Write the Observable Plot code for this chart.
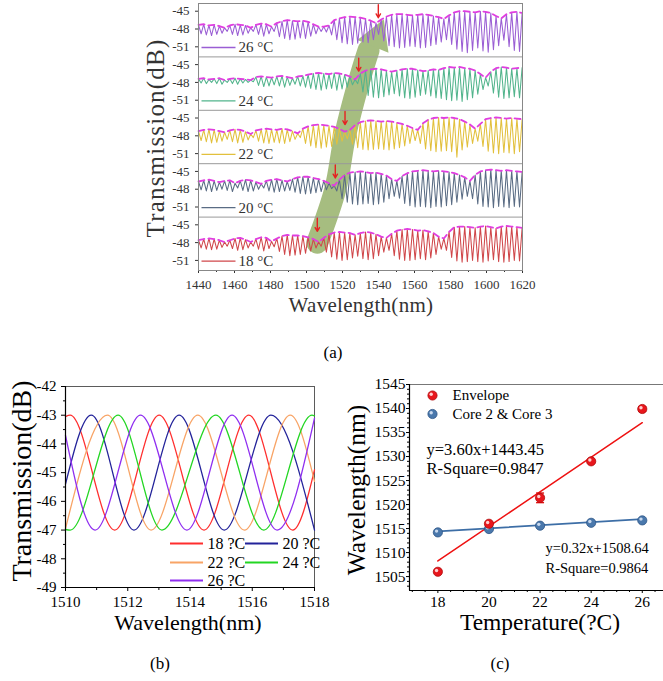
<!DOCTYPE html>
<html><head><meta charset="utf-8">
<script src="https://cdn.jsdelivr.net/npm/d3@7"></script>
<script src="https://cdn.jsdelivr.net/npm/@observablehq/plot@0.6"></script>
<style>
body{margin:0;background:#fff;}
#root{position:relative;width:663px;height:681px;overflow:hidden;font-family:"Liberation Serif","Times New Roman",serif;background:#fff;}
#root svg, #root svg text{font-family:"Liberation Serif","Times New Roman",serif !important;}
.lbl{position:absolute;white-space:nowrap;color:#000;line-height:1;font-family:"Liberation Serif","Times New Roman",serif;}
</style></head><body><div id="root"></div>
<script>
// ---------- panel (a): stacked transmission spectra ----------
const tempsA = [18, 20, 22, 24, 26];
const colorsA = ["#d0474a", "#5a6c84", "#e2c03c", "#52b48c", "#9a5ed4"];
const fringeStart = 1440, fringeSpacing = 2.9;   // nm, fringe peak grid
const tops18 = [-47.6,-47.4,-47.3,-47.4,-47.6,-47.9,-47.6,-47.3,-47.2,-47.5,-47.9,-47.4,-47.1,-47.2,-47.8,-47.3,-46.9,-46.7,-46.8,-46.8,-46.9,-47.1,-47.4,-47.9,-47.2,-46.6,-46.3,-46.2,-46.3,-46.4,-46.7,-46.4,-46.2,-46.3,-46.6,-47.0,-47.2,-46.5,-46.0,-45.8,-45.7,-45.8,-46.0,-45.9,-46.1,-46.4,-47.0,-47.3,-46.2,-45.4,-45.3,-45.3,-45.4,-45.5,-45.3,-45.2,-45.4,-45.6,-45.3,-45.2,-45.3,-45.4,-45.5];
const bots18 = [-48.9,-49.1,-49.2,-49.1,-48.8,-48.6,-49.0,-49.3,-49.2,-48.9,-48.6,-49.1,-49.4,-49.0,-48.7,-49.5,-50.0,-50.2,-50.1,-50.0,-49.8,-49.4,-48.9,-48.6,-49.6,-50.4,-50.8,-51.0,-50.9,-50.6,-50.3,-50.7,-50.9,-50.7,-50.2,-49.6,-49.3,-50.2,-50.8,-51.0,-51.0,-50.9,-50.7,-50.9,-50.6,-50.0,-49.1,-49.3,-50.5,-51.1,-51.3,-51.2,-51.0,-51.2,-51.3,-51.1,-50.9,-51.2,-51.3,-51.2,-51.0,-51.1];
const tops20 = [-46.7,-46.5,-46.4,-46.6,-46.8,-46.6,-46.5,-47.0,-46.6,-46.4,-46.5,-46.8,-47.1,-46.6,-46.4,-46.3,-46.5,-46.7,-46.3,-46.0,-45.9,-45.9,-46.1,-46.3,-46.6,-47.0,-47.4,-46.4,-45.6,-45.2,-45.1,-45.0,-45.1,-45.3,-45.2,-45.4,-45.7,-46.3,-46.6,-45.8,-45.3,-45.0,-44.9,-44.8,-44.9,-45.0,-44.9,-45.0,-45.1,-45.3,-45.6,-46.0,-46.6,-45.6,-45.0,-44.8,-44.7,-44.8,-44.9,-44.8,-44.9,-45.0,-45.1];
const bots20 = [-48.1,-48.3,-48.4,-48.2,-48.0,-48.2,-48.4,-47.8,-48.2,-48.4,-48.3,-48.0,-47.8,-48.3,-48.5,-48.4,-48.3,-48.2,-48.5,-48.7,-48.8,-48.7,-48.6,-48.4,-48.1,-47.9,-48.3,-49.6,-50.2,-50.5,-50.6,-50.5,-50.4,-50.6,-50.5,-50.2,-49.6,-49.2,-49.5,-50.4,-50.8,-51.0,-50.9,-51.0,-51.1,-50.9,-51.0,-50.8,-50.6,-50.2,-49.7,-49.2,-49.6,-50.5,-50.9,-51.0,-51.1,-50.9,-51.0,-51.1,-50.9,-51.0];
const tops22 = [-47.2,-47.0,-46.9,-47.0,-47.2,-47.4,-47.1,-46.9,-47.0,-47.3,-47.7,-47.1,-46.9,-46.8,-46.9,-47.0,-46.8,-46.9,-47.2,-47.6,-46.8,-46.4,-46.2,-46.1,-46.2,-46.3,-46.5,-46.8,-47.3,-47.0,-46.2,-45.7,-45.5,-45.4,-45.5,-45.6,-45.5,-45.6,-45.8,-46.0,-46.3,-46.7,-47.0,-45.9,-45.3,-45.0,-44.9,-45.0,-44.9,-45.0,-45.2,-45.6,-46.1,-46.8,-46.0,-45.2,-45.0,-44.9,-45.0,-45.1,-45.0,-45.1,-45.2];
const bots22 = [-48.8,-49.0,-49.2,-49.1,-48.9,-48.6,-49.0,-49.2,-49.1,-48.7,-48.3,-48.9,-49.2,-49.3,-49.1,-49.2,-49.3,-49.0,-48.6,-48.3,-49.3,-49.7,-50.0,-50.1,-49.9,-49.8,-49.4,-48.9,-48.5,-49.4,-50.0,-50.3,-50.4,-50.3,-50.2,-50.3,-50.4,-50.2,-50.0,-49.7,-49.3,-48.8,-49.3,-50.2,-50.5,-50.7,-50.6,-50.5,-50.7,-51.6,-50.4,-49.9,-49.3,-48.9,-49.8,-50.6,-50.9,-51.0,-50.8,-50.9,-51.0,-50.7];
const tops24 = [-47.4,-47.3,-47.5,-47.4,-47.3,-47.6,-47.4,-47.3,-47.4,-47.5,-47.6,-47.1,-47.0,-47.1,-47.2,-47.0,-46.9,-47.1,-47.3,-47.0,-46.9,-46.7,-46.5,-46.4,-46.5,-46.6,-46.4,-46.5,-46.7,-47.0,-47.5,-46.5,-46.0,-45.8,-45.7,-45.8,-46.0,-46.2,-46.0,-45.8,-45.7,-45.7,-45.9,-46.1,-46.0,-45.8,-45.9,-45.6,-45.4,-45.5,-45.4,-45.6,-45.7,-46.0,-46.6,-47.2,-46.2,-45.6,-45.4,-45.5,-45.7,-45.6,-45.5];
const bots24 = [-48.1,-48.2,-48.0,-48.2,-48.3,-48.0,-48.2,-48.3,-48.1,-48.0,-47.9,-48.5,-48.7,-48.6,-48.4,-48.6,-48.8,-48.5,-48.3,-48.6,-48.8,-49.0,-49.2,-49.3,-49.1,-49.0,-49.3,-49.1,-48.8,-48.4,-48.2,-49.6,-50.2,-50.5,-50.6,-50.4,-50.1,-49.9,-50.3,-50.6,-50.7,-50.5,-50.2,-50.0,-50.3,-50.6,-50.7,-50.9,-51.1,-51.0,-51.2,-50.9,-50.6,-50.0,-49.2,-48.6,-49.8,-50.5,-50.7,-50.6,-50.4,-50.6];
const tops26 = [-47.3,-47.2,-47.4,-47.3,-47.5,-47.8,-47.4,-47.2,-47.3,-47.4,-47.8,-47.3,-47.1,-47.2,-47.6,-47.0,-46.7,-46.5,-46.6,-46.7,-46.6,-46.8,-47.2,-47.6,-47.6,-47.4,-46.5,-46.2,-46.0,-45.9,-46.0,-46.1,-46.3,-46.6,-47.0,-46.4,-45.9,-45.6,-45.5,-45.5,-45.6,-45.7,-45.6,-45.5,-45.6,-45.8,-46.0,-46.3,-45.7,-45.2,-45.0,-45.0,-45.1,-45.2,-45.0,-45.1,-45.3,-45.8,-46.2,-45.5,-45.2,-45.1,-45.3];
const bots26 = [-48.8,-49.0,-49.1,-48.9,-48.7,-48.4,-48.9,-49.1,-49.0,-48.7,-48.4,-48.9,-49.2,-48.8,-48.4,-49.3,-49.6,-49.8,-49.7,-49.5,-49.6,-49.2,-48.8,-48.4,-48.5,-49.0,-49.8,-50.3,-50.5,-50.6,-50.4,-50.2,-50.3,-49.8,-48.9,-50.0,-50.8,-51.0,-51.2,-51.1,-50.9,-51.0,-51.2,-51.1,-50.8,-50.6,-50.2,-49.8,-50.6,-51.4,-51.8,-52.0,-51.6,-51.2,-51.7,-51.9,-51.5,-50.8,-49.9,-51.0,-51.6,-51.8];
const ticksA = [-45, -48, -51];

// ---------- panel (b): zoomed spectra, [wavelength nm, dB] extrema ----------
const labelsB = ["18 ?C", "20 ?C", "22 ?C", "24 ?C", "26 ?C"];
const colorsB = ["#ff2e2e", "#23239a", "#f8a466", "#22d622", "#8f2ef0"];
const b18 = [[1510,-43.05],[1510.15,-43.0],[1511.58,-47.0],[1513.01,-43.0],[1514.45,-47.0],[1515.89,-43.0],[1517.3,-47.0],[1518,-44.9]];
const b20 = [[1510,-45.4],[1510.83,-43.0],[1512.2,-47.0],[1513.65,-43.0],[1515.1,-47.0],[1516.6,-43.0],[1518,-47.0]];
const b22 = [[1510,-46.95],[1511.35,-43.0],[1512.75,-47.0],[1514.25,-43.0],[1515.75,-47.0],[1517.22,-43.0],[1518,-45.3]];
const b24 = [[1510,-46.98],[1510.15,-47.0],[1511.69,-43.0],[1513.1,-47.0],[1514.83,-43.0],[1516.37,-47.0],[1517.92,-43.0],[1518,-43.02]];
const b26 = [[1510,-43.7],[1510.95,-47.0],[1512.41,-43.0],[1513.9,-47.0],[1515.35,-43.0],[1516.8,-47.0],[1518,-43.1]];

// ---------- panel (c): wavelength vs temperature ----------
const tempsC = [18, 20, 22, 24, 26];
const envelopeNm = [1506.0, 1516.0, 1521.4, 1529.0, 1539.9];
const envelopeErr = [0.3, 0.3, 1.0, 0.3, 0.5];
const coreNm = [1514.2, 1514.9, 1515.6, 1516.2, 1516.7];
const fitSlope = [3.60, 0.32];
const fitIntercept = [1443.45, 1508.64];
const fitText = [["y=3.60x+1443.45", "R-Square=0.9847"], ["y=0.32x+1508.64", "R-Square=0.9864"]];

// ================= layout helpers =================
const root = document.getElementById("root");
const FONT = '"Liberation Serif","Times New Roman",serif';
function place(el, left, top) { el.style.position = "absolute"; el.style.left = left + "px"; el.style.top = top + "px"; root.appendChild(el); }
function label(text, cx, cy, size, o = {}) {
  const d = document.createElement("div");
  d.className = "lbl"; d.textContent = text;
  d.style.left = cx + "px"; d.style.top = cy + "px"; d.style.fontSize = size + "px";
  d.style.transform = "translate(-50%,-50%)" + (o.rotate ? " rotate(-90deg)" : "");
  if (o.color) d.style.color = o.color;
  if (o.ls) d.style.letterSpacing = o.ls + "px";
  root.appendChild(d);
}
const hLine = len => ({draw(ctx) { ctx.moveTo(-len / 2, 0); ctx.lineTo(len / 2, 0); }});
const blank = () => "";
const note = (txt, dx, dy, fontSize, fill = "#000") =>
  Plot.text([txt], {frameAnchor: "top-left", dx, dy, textAnchor: "start", lineAnchor: "middle", fontSize, fill, fontFamily: FONT});
const ax = o => ({label: null, fontFamily: FONT, fontVariant: "normal", ...o});

// ================= panel (a) =================
const panelLo = -52.7, panelSpan = 9;
const stackY = (v, k) => v - panelLo + k * panelSpan;
const topsAll = [tops18, tops20, tops22, tops24, tops26];
const botsAll = [bots18, bots20, bots22, bots24, bots26];
const spectraRows = [], topRows = [];
tempsA.forEach((t, k) => {
  topsAll[k].forEach((v, i) => {
    const x = fringeStart + i * fringeSpacing;
    spectraRows.push({t, x, s: stackY(v, k)});
    topRows.push({t, x, s: stackY(v, k)});
    if (i < botsAll[k].length) spectraRows.push({t, x: x + fringeSpacing / 2, s: stackY(botsAll[k][i], k)});
  });
});
const shaft = envelopeNm.slice(0, 4).map((x, k) => ({x, s: stackY(-48, k)}));
shaft.push({x: (envelopeNm[3] + envelopeNm[4]) / 2, s: stackY(-51.6, 4)});
const head = [{x: envelopeNm[4] - 1, s: stackY(-49.4, 4)}];
const redArrows = envelopeNm.map((x, k) => ({x, s1: stackY(-43.9, k), s2: stackY(-46.1, k)}));
const yTickPosA = tempsA.flatMap((t, k) => ticksA.map(v => stackY(v, k)));
const pxPanel = 267 / 5;
const legendA = tempsA.flatMap((t, k) => [
  Plot.dot([0], {frameAnchor: "top-left", dx: 20, dy: (4 - k) * pxPanel + 44, symbol: hLine(34), stroke: colorsA[k], strokeWidth: 1.3, fill: "none"}),
  note(`${t} °C`, 40, (4 - k) * pxPanel + 44, 15, "#333")
]);
const plotA = Plot.plot({
  width: 663, height: 292, marginLeft: 198, marginRight: 141, marginTop: 3, marginBottom: 22,
  style: {fontFamily: FONT, fontSize: "13px", color: "#333", background: "transparent", overflow: "visible"},
  x: {domain: [1440, 1620]},
  y: {domain: [0, panelSpan * 5]},
  color: {type: "ordinal", domain: tempsA, range: colorsA},
  marks: [
    Plot.line(shaft, {x: "x", y: "s", curve: "catmull-rom", stroke: "#a6bd80", strokeWidth: 22}),
    Plot.dot(head, {x: "x", y: "s", symbol: "triangle", r: 12.5, rotate: 22, fill: "#a6bd80"}),
    Plot.ruleY(d3.range(1, 5).map(k => k * panelSpan), {stroke: "#999"}),
    Plot.line(spectraRows, {x: "x", y: "s", z: "t", stroke: "t", strokeWidth: 1.05}),
    Plot.line(topRows, {x: "x", y: "s", z: "t", stroke: "#e03ee0", strokeWidth: 1.8, strokeDasharray: "6,4"}),
    Plot.arrow(redArrows, {x1: "x", x2: "x", y1: "s1", y2: "s2", stroke: "#e52222", strokeWidth: 1.4, headLength: 5}),
    ...legendA,
    Plot.axisY(yTickPosA, ax({tickSize: 3, fontSize: 13, tickFormat: d => { const k = Math.floor(d / panelSpan); return String(Math.round(d - k * panelSpan + panelLo)); }})),
    Plot.axisX(d3.range(1440, 1621, 20), ax({tickSize: 3, fontSize: 13, tickFormat: d => String(d)})),
    Plot.axisX(d3.range(1450, 1620, 20), ax({tickSize: 2, tickFormat: blank})),
    Plot.frame({stroke: "#888"})
  ]
});
place(plotA, 0, 0);
label("Transmission(dB)", 155, 138, 25, {rotate: true, color: "#333", ls: 1.2});
label("Wavelength(nm)", 361, 305, 21, {color: "#333", ls: 0.3});
label("(a)", 333, 352, 17);

// ================= panel (b) =================
const rowsB = [];
[b18, b20, b22, b24, b26].forEach((arr, k) => arr.forEach(([x, y]) => rowsB.push({t: labelsB[k], x, y})));
const xDomB = [1510, 1518], yDomB = [-49, -42];
const legPosB = [[121, 157], [196, 157], [121, 176], [196, 176], [121, 194]];
const legendB = labelsB.flatMap((t, k) => [
  Plot.dot([0], {frameAnchor: "top-left", dx: legPosB[k][0], dy: legPosB[k][1], symbol: hLine(33), stroke: colorsB[k], strokeWidth: 2, fill: "none"}),
  note(t, legPosB[k][0] + 21, legPosB[k][1], 16)
]);
const plotB = Plot.plot({
  width: 330, height: 250, marginLeft: 65, marginRight: 16, marginTop: 26, marginBottom: 23,
  style: {fontFamily: FONT, fontSize: "15px", color: "#000", background: "transparent", overflow: "visible"},
  x: {domain: xDomB}, y: {domain: yDomB},
  color: {type: "ordinal", domain: labelsB, range: colorsB},
  marks: [
    Plot.frame({stroke: "#333", strokeWidth: 0.8}),
    Plot.line(rowsB, {x: "x", y: "y", z: "t", stroke: "t", strokeWidth: 1.3, curve: "monotone-x"}),
    ...legendB,
    Plot.ruleX([xDomB[0]], {stroke: "#000", strokeWidth: 1.2}),
    Plot.ruleY([yDomB[0]], {stroke: "#000", strokeWidth: 1.2}),
    Plot.axisX(d3.range(1510, 1519, 2), ax({tickSize: 4, fontSize: 15, tickFormat: d => String(d)})),
    Plot.axisX(d3.range(1511, 1518, 2), ax({tickSize: 3, tickFormat: blank})),
    Plot.axisY(d3.range(-49, -41), ax({tickSize: 4, fontSize: 15, tickFormat: d => String(d)})),
    Plot.axisY(d3.range(-48.5, -42, 0.5).filter(v => v % 1 !== 0), ax({tickSize: 2, tickFormat: blank}))
  ]
});
place(plotB, 0, 360);
label("Transmission(dB)", 22, 481, 28, {rotate: true});
label("Wavelength(nm)", 188, 623, 22);
label("(b)", 160, 663, 17);

// ================= panel (c) =================
const xDomC = [16.89, 26.87], yDomC = [1502.1, 1545];
const envRows = tempsC.map((x, i) => ({x, y: envelopeNm[i], lo: envelopeNm[i] - envelopeErr[i], hi: envelopeNm[i] + envelopeErr[i]}));
const coreRows = tempsC.map((x, i) => ({x, y: coreNm[i]}));
const fitRows = fitSlope.flatMap((a, j) => d3.extent(tempsC).map(x => ({j, x, y: a * x + fitIntercept[j]})));
const plotC = Plot.plot({
  width: 336, height: 250, marginLeft: 79, marginRight: 2, marginTop: 24, marginBottom: 20,
  style: {fontFamily: FONT, fontSize: "15.5px", color: "#000", background: "transparent", overflow: "visible"},
  x: {domain: xDomC}, y: {domain: yDomC},
  marks: [
    Plot.frame({stroke: "#777", strokeWidth: 1}),
    Plot.ruleX([xDomC[0]], {stroke: "#000", strokeWidth: 1.2}),
    Plot.ruleY([yDomC[0]], {stroke: "#000", strokeWidth: 1.2}),
    Plot.line(fitRows.filter(d => d.j === 0), {x: "x", y: "y", stroke: "#ee1111", strokeWidth: 1.5}),
    Plot.line(fitRows.filter(d => d.j === 1), {x: "x", y: "y", stroke: "#3d6ea6", strokeWidth: 1.8}),
    Plot.ruleX(envRows, {x: "x", y1: "lo", y2: "hi", stroke: "#e01010", strokeWidth: 1.4}),
    Plot.dot(envRows, {x: "x", y: "lo", symbol: hLine(8), stroke: "#e01010", strokeWidth: 1.4, fill: "none"}),
    Plot.dot(envRows, {x: "x", y: "hi", symbol: hLine(8), stroke: "#e01010", strokeWidth: 1.4, fill: "none"}),
    Plot.dot(coreRows, {x: "x", y: "y", r: 4.6, fill: "#4a78ac", stroke: "#2d5586", strokeWidth: 0.8}),
    Plot.dot(coreRows, {x: "x", y: "y", r: 1.7, dx: -1.3, dy: -1.3, fill: "#c9d9ee", stroke: "none"}),
    Plot.dot(envRows, {x: "x", y: "y", r: 4.6, fill: "#e8161c", stroke: "#b00a0a", strokeWidth: 0.8}),
    Plot.dot(envRows, {x: "x", y: "y", r: 1.7, dx: -1.3, dy: -1.3, fill: "#ffd0d0", stroke: "none"}),
    // legend
    Plot.dot([0], {frameAnchor: "top-left", dx: 23, dy: 11, r: 4.6, fill: "#e8161c", stroke: "#b00a0a", strokeWidth: 0.8}),
    Plot.dot([0], {frameAnchor: "top-left", dx: 21.7, dy: 9.7, r: 1.7, fill: "#ffd0d0"}),
    Plot.dot([0], {frameAnchor: "top-left", dx: 23, dy: 29.5, r: 4.6, fill: "#4a78ac", stroke: "#2d5586", strokeWidth: 0.8}),
    Plot.dot([0], {frameAnchor: "top-left", dx: 21.7, dy: 28.2, r: 1.7, fill: "#c9d9ee"}),
    note("Envelope", 43, 11, 15),
    note("Core 2 & Core 3", 43, 29.5, 15),
    // fit annotations
    note(fitText[0][0], 17, 65, 16.5),
    note(fitText[0][1], 17, 84, 16.5),
    note(fitText[1][0], 136, 164, 14.5),
    note(fitText[1][1], 136, 184, 14.5),
    Plot.axisX(d3.range(18, 27, 2), ax({tickSize: 3, tickPadding: 2, fontSize: 15.5, tickFormat: d => String(d)})),
    Plot.axisX(d3.range(17, 26.9, 0.5).filter(v => v % 2 !== 0), ax({tickSize: 2, tickFormat: blank})),
    Plot.axisY(d3.range(1505, 1546, 5), ax({tickSize: 3, tickPadding: 1, fontSize: 15.5, tickFormat: d => String(d)})),
    Plot.axisY(d3.range(1503, 1545, 1).filter(v => v % 5 !== 0), ax({tickSize: 2, tickFormat: blank}))
  ]
});
place(plotC, 330, 360);
label("Wavelength(nm)", 357, 490, 25.5, {rotate: true});
label("Temperature(?C)", 540, 623, 23.5);
label("(c)", 500, 663, 17);
</script>
</body></html>
